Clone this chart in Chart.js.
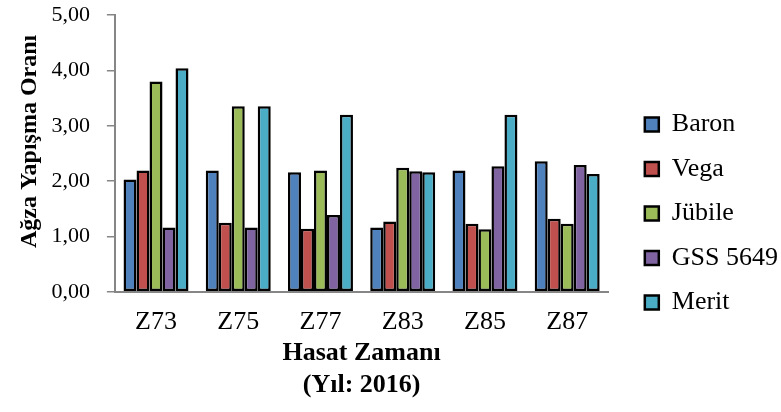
<!DOCTYPE html>
<html>
<head>
<meta charset="utf-8">
<script src="https://cdn.jsdelivr.net/npm/chart.js@4"></script>
<style>
  html, body { margin: 0; padding: 0; background: #fff; }
  #wrap { width: 781px; height: 412px; }
</style>
</head>
<body>
<div id="wrap"><canvas id="bars"></canvas></div>
<script>
var categories = ['Z73', 'Z75', 'Z77', 'Z83', 'Z85', 'Z87'];
var baron  = [2.03, 2.19, 2.16, 1.16, 2.19, 2.36];
var vega   = [2.19, 1.25, 1.14, 1.27, 1.23, 1.32];
var jubile = [3.80, 3.35, 2.19, 2.24, 1.13, 1.23];
var gss    = [1.16, 1.16, 1.39, 2.18, 2.27, 2.29];
var merit  = [4.04, 3.35, 3.20, 2.16, 3.20, 2.13];
var yTicks = [0, 1, 2, 3, 4, 5];

var serif = '"Liberation Serif", "Times New Roman", serif';

function series(label, data, color) {
    return {
        label: label,
        data: data,
        backgroundColor: color,
        borderColor: '#000',
        borderWidth: 2.5,
        borderSkipped: false,
        barPercentage: 1.0,
        categoryPercentage: 0.79
    };
}

// push the legend a bit further from the plot, like the original
var legendShift = {
    id: 'legendShift',
    afterLayout: function (chart) {
        chart.legend.left += 18;
        chart.legend.right += 18;
    }
};

var ctx = document.getElementById('bars').getContext('2d');
var chart = new Chart(ctx, {
    type: 'bar',
    data: {
        labels: categories,
        datasets: [
            series('Baron', baron, '#4F81BD'),
            series('Vega', vega, '#C0504D'),
            series('Jübile', jubile, '#9BBB59'),
            series('GSS 5649', gss, '#8064A2'),
            series('Merit', merit, '#4BACC6')
        ]
    },
    options: {
        responsive: true,
        maintainAspectRatio: false,
        animation: false,
        layout: { padding: { top: 15, left: 0, right: 11, bottom: 0 } },
        scales: {
            x: {
                grid: { display: false, drawTicks: false },
                border: { color: '#868686', width: 2 },
                ticks: { color: '#000', padding: 15, font: { family: serif, size: 26 } },
                title: {
                    display: true,
                    text: ['Hasat Zamanı', '(Yıl: 2016)'],
                    color: '#000',
                    padding: { top: -16, bottom: 11 },
                    font: { family: serif, size: 26, weight: 'bold', lineHeight: 1.23 }
                }
            },
            y: {
                min: 0,
                max: 5,
                afterBuildTicks: function (scale) {
                    scale.ticks = yTicks.map(function (v) { return { value: v }; });
                },
                afterFit: function (scale) {
                    scale.paddingTop = 0;
                },
                grid: { drawOnChartArea: false, drawTicks: true, tickLength: 8, color: '#868686', lineWidth: 1.5 },
                border: { color: '#868686', width: 2 },
                ticks: {
                    color: '#000',
                    padding: 17,
                    font: { family: serif, size: 22 },
                    callback: function (v) { return Number(v).toFixed(2).replace('.', ','); }
                },
                title: {
                    display: true,
                    text: '    Ağza Yapışma Oranı',
                    color: '#000',
                    padding: { top: 15.6, bottom: -10 },
                    font: { family: serif, size: 24, weight: 'bold' }
                }
            }
        },
        plugins: {
            legend: {
                position: 'right',
                labels: {
                    color: '#000',
                    boxWidth: 14,
                    boxHeight: 14,
                    padding: 18.5,
                    font: { family: serif, size: 26 }
                }
            },
            tooltip: { enabled: false }
        }
    },
    plugins: [legendShift]
});
</script>
</body>
</html>
